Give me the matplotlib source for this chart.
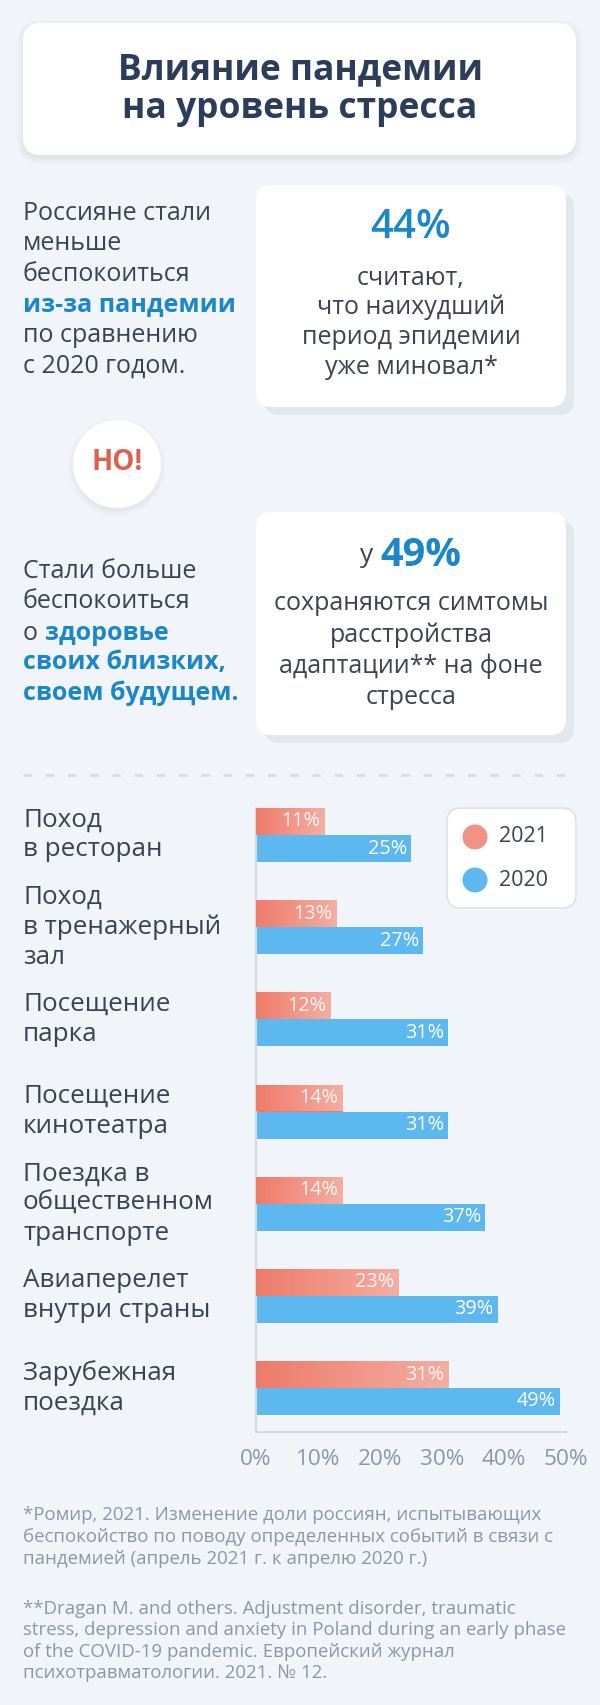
import numpy as np
import matplotlib
matplotlib.use("Agg")
import matplotlib.pyplot as plt
from matplotlib import transforms
from matplotlib.patches import FancyBboxPatch, Circle
from matplotlib.colors import LinearSegmentedColormap

plt.rcParams['font.family'] = ['Open Sans', 'DejaVu Sans']

# ---- chart data ----
categories = ["Поход\nв ресторан", "Поход\nв тренажерный\nзал", "Посещение\nпарка",
              "Посещение\nкинотеатра", "Поездка в\nобщественном\nтранспорте",
              "Авиаперелет\nвнутри страны", "Зарубежная\nпоездка"]
values_2021 = [11, 13, 12, 14, 14, 23, 31]
values_2020 = [25, 27, 31, 31, 37, 39, 49]
x_ticks = [0, 10, 20, 30, 40, 50]
series_names = ["2021", "2020"]

# ---- colours ----
BG = "#f1f4f8"
SHADOW = "#e2e7ee"
NAVY = "#2b3d5b"
TEXT = "#3b4350"
BLUE = "#1b87c9"
RED = "#e0604e"
GREY = "#8d97a4"
BAR_BLUE = "#5cb8ee"
SALMON = ["#ee7b6a", "#f4aea2"]

fig = plt.figure(figsize=(6, 17.05), dpi=100, facecolor=BG)
bg = fig.add_axes([0, 0, 1, 1])
bg.set_xlim(0, 600)
bg.set_ylim(1705, 0)
bg.axis("off")


def card(x0, y0, x1, y1, r=16, hard_shadow=True):
    w, h = x1 - x0, y1 - y0
    style = f"round,pad=0,rounding_size={r}"
    if hard_shadow:
        bg.add_patch(FancyBboxPatch((x0 + 8, y0 + 8), w, h, boxstyle=style,
                                    fc=SHADOW, ec="none"))
    else:
        for i in range(7):
            bg.add_patch(FancyBboxPatch((x0 - i, y0 - i + 3), w + 2 * i, h + 2 * i,
                                        boxstyle=f"round,pad=0,rounding_size={r + i}",
                                        fc="#c9d2dd", ec="none", alpha=0.06))
    bg.add_patch(FancyBboxPatch((x0, y0), w, h, boxstyle=style, fc="white", ec="none"))


# title card
card(23, 23, 576, 155, r=18, hard_shadow=False)
bg.text(300, 70, "Влияние пандемии", ha="center", va="center", fontsize=25.5,
        fontweight="bold", color=NAVY)
bg.text(300, 109, "на уровень стресса", ha="center", va="center", fontsize=25.5,
        fontweight="bold", color=NAVY)

BODY = 18
renderer = fig.canvas.get_renderer()


def width_of(t):
    return t.get_window_extent(renderer=renderer).width


# left block 1
lines1 = [("Россияне стали", TEXT, "normal"), ("меньше", TEXT, "normal"),
          ("беспокоиться", TEXT, "normal"), ("из-за пандемии", BLUE, "bold"),
          ("по сравнению", TEXT, "normal"), ("с 2020 годом.", TEXT, "normal")]
for k, (s, c, w) in enumerate(lines1):
    bg.text(23, 213 + k * 30.6, s, ha="left", va="center", fontsize=BODY,
            color=c, fontweight=w)

# right card 1
card(256, 185, 566, 407)
bg.text(411, 228, "44%", ha="center", va="center", fontsize=29, color=BLUE,
        fontweight="semibold")
for k, s in enumerate(["считают,", "что наихудший", "период эпидемии", "уже миновал*"]):
    bg.text(411, 278 + k * 29.7, s, ha="center", va="center", fontsize=BODY, color=TEXT)

# "НО!" bubble
for i in range(6):
    bg.add_patch(Circle((117, 467), 44 + i, fc="#c9d2dd", ec="none", alpha=0.05))
bg.add_patch(Circle((117, 464), 44, fc="white", ec="none"))
bg.text(117, 463, "НО!", ha="center", va="center", fontsize=20, fontweight="bold", color=RED)

# right card 2
card(256, 512, 566, 735)
t1 = bg.text(0, 556, "у ", ha="left", va="center", fontsize=BODY + 1, color=TEXT)
t2 = bg.text(0, 556, "49%", ha="left", va="center", fontsize=28.5, fontweight="bold", color=BLUE)
w1, w2 = width_of(t1), width_of(t2)
start = 411 - (w1 + w2) / 2
t1.set_x(start)
t2.set_x(start + w1)
for k, s in enumerate(["сохраняются симтомы", "расстройства", "адаптации** на фоне", "стресса"]):
    bg.text(411, 604 + k * 31, s, ha="center", va="center", fontsize=BODY, color=TEXT)

# left block 2
bg.text(23, 572, "Стали больше", ha="left", va="center", fontsize=BODY, color=TEXT)
bg.text(23, 602, "беспокоиться", ha="left", va="center", fontsize=BODY, color=TEXT)
t3 = bg.text(23, 633, "о ", ha="left", va="center", fontsize=BODY, color=TEXT)
bg.text(23 + width_of(t3), 633, "здоровье", ha="left", va="center", fontsize=BODY,
        fontweight="bold", color=BLUE)
bg.text(23, 663, "своих близких,", ha="left", va="center", fontsize=BODY,
        fontweight="bold", color=BLUE)
bg.text(23, 693, "своем будущем.", ha="left", va="center", fontsize=BODY,
        fontweight="bold", color=BLUE)

# dashed divider
bg.plot([23, 576], [775, 775], color="#d5dce4", lw=2, ls=(0, (3, 5)))

# ---- bar chart ----
ax_top, ax_bot = 808, 1432
ax = fig.add_axes([256 / 600, 1 - ax_bot / 1705, 310 / 600, (ax_bot - ax_top) / 1705])
ax.set_facecolor("none")
n = len(categories)
pos = np.arange(n)
unit = (1388 - 835) / (n - 1)
h = 27 / unit
ylim = (6 + (ax_bot - 1388) / unit, -27 / unit)
xlim = (0, 50)

bars21 = ax.barh(pos - h / 2, values_2021, height=h, color=SALMON[0], zorder=2)
ax.barh(pos + h / 2, values_2020, height=h, color=BAR_BLUE, zorder=2)

cmap = LinearSegmentedColormap.from_list("salmon", SALMON)
grad = np.linspace(0, 1, 256).reshape(1, -1)
for rect in bars21:
    x0, y0 = rect.get_x(), rect.get_y()
    im = ax.imshow(grad, extent=[x0, x0 + rect.get_width(), y0 + rect.get_height(), y0],
                   cmap=cmap, aspect="auto", zorder=3)
    im.set_clip_path(rect)

for i in range(n):
    ax.annotate(f"{values_2021[i]}%", xy=(values_2021[i], pos[i] - h / 2), xytext=(-3, 0),
                textcoords="offset points", ha="right", va="center", color="white",
                fontsize=14.3, alpha=0.9, zorder=4)
    ax.annotate(f"{values_2020[i]}%", xy=(values_2020[i], pos[i] + h / 2), xytext=(-3, 0),
                textcoords="offset points", ha="right", va="center", color="white",
                fontsize=14.3, zorder=4)

ax.set_xlim(*xlim)
ax.set_ylim(*ylim)
ax.set_xticks(x_ticks)
ax.set_xticklabels([f"{t}%" for t in x_ticks], fontsize=16.2, color=GREY)
ax.set_yticks([])
ax.tick_params(axis="x", length=0, pad=12)
for side in ["top", "right"]:
    ax.spines[side].set_visible(False)
for side in ["left", "bottom"]:
    ax.spines[side].set_color("#d3d9e1")
    ax.spines[side].set_linewidth(1.5)

# category labels at the left edge
lab_tr = transforms.blended_transform_factory(bg.transData, ax.transData)
for i, c in enumerate(categories):
    ax.text(23, pos[i], c, transform=lab_tr, ha="left", va="center", fontsize=18.7,
            color=TEXT, linespacing=1.25, clip_on=False)

# legend card
bg.add_patch(FancyBboxPatch((447, 808), 129, 100, boxstyle="round,pad=0,rounding_size=14",
                            fc="white", ec="#dce2e9", lw=1.2))
leg_colors = ["#f19282", BAR_BLUE]
for k, name in enumerate(series_names):
    y = 837 + k * 43
    bg.add_patch(Circle((475, y), 12.5, fc=leg_colors[k], ec="none"))
    bg.text(499, y, name, ha="left", va="center", fontsize=15.5, color=TEXT)

# footnotes
bg.text(23, 1537, "*Ромир, 2021. Изменение доли россиян, испытывающих\n"
        "беспокойство по поводу определенных событий в связи с\n"
        "пандемией (апрель 2021 г. к апрелю 2020 г.)",
        ha="left", va="center", fontsize=13.4, color=GREY, linespacing=1.25)
bg.text(23, 1641, "**Dragan M. and others. Adjustment disorder, traumatic\n"
        "stress, depression and anxiety in Poland during an early phase\n"
        "of the COVID-19 pandemic. Европейский журнал\n"
        "психотравматологии. 2021. № 12.",
        ha="left", va="center", fontsize=13.4, color=GREY, linespacing=1.25)

fig.savefig("out.png", dpi=100, facecolor=BG)
